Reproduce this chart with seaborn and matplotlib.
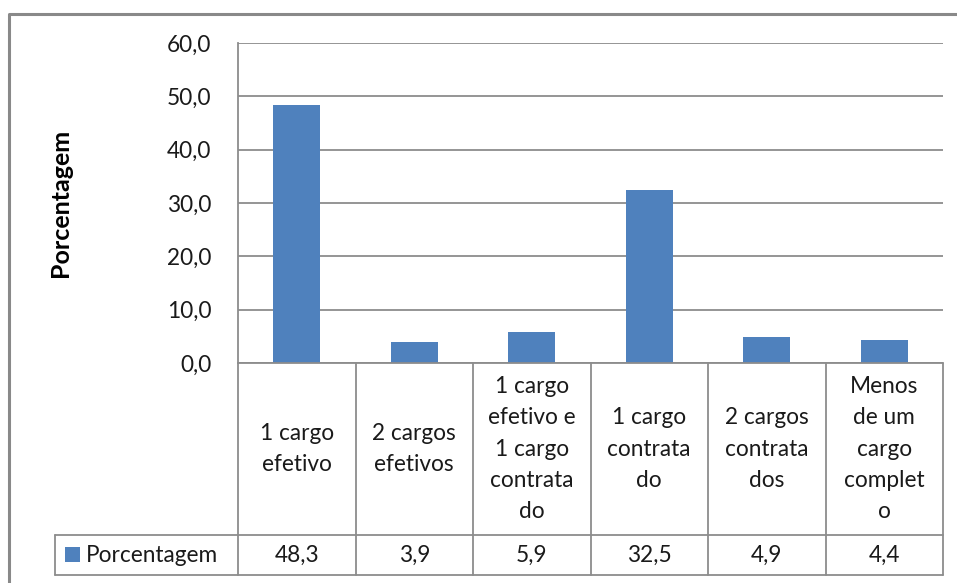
import matplotlib
matplotlib.use("Agg")
import matplotlib.pyplot as plt
import matplotlib.transforms as mtransforms
from matplotlib.lines import Line2D
from matplotlib.patches import Rectangle
import seaborn as sns
import pandas as pd

# Data
categories = [
    "1 cargo\nefetivo",
    "2 cargos\nefetivos",
    "1 cargo\nefetivo e\n1 cargo\ncontrata\ndo",
    "1 cargo\ncontrata\ndo",
    "2 cargos\ncontrata\ndos",
    "Menos\nde um\ncargo\ncomplet\no",
]
values = [48.3, 3.9, 5.9, 32.5, 4.9, 4.4]
series_name = "Porcentagem"
y_ticks = [0, 10, 20, 30, 40, 50, 60]

df = pd.DataFrame({"categoria": categories, "valor": values})

sns.set_theme(style="white")
plt.rcParams["font.family"] = ["Lato", "DejaVu Sans"]

W, H = 957, 583
BAR = "#4F81BD"
GRID = "#8c8c8c"
TXT = "#1a1a1a"
FS = 16.3

fig = plt.figure(figsize=(W / 100, H / 100), dpi=100)
fig.patch.set_facecolor("white")

def fx(px):
    return px / W

def fy(py):
    return 1 - py / H

# plot area in pixel terms
L, R, T, B = 238, 943, 43, 363
ax = fig.add_axes([fx(L), fy(B), fx(R - L), (B - T) / H])

sns.barplot(data=df, x="categoria", y="valor", color=BAR, width=0.4,
            saturation=1, ax=ax, edgecolor="none")

ax.set_xlim(-0.5, len(categories) - 0.5)
ax.set_ylim(0, 60)
ax.set_yticks(y_ticks)
ax.set_yticklabels([f"{v:.1f}".replace(".", ",") for v in y_ticks],
                   fontsize=FS, color=TXT)
ax.tick_params(axis="y", length=0, pad=19)
ax.set_xticks([])
ax.set_xlabel("")
ax.set_ylabel("Porcentagem", fontsize=18, fontweight="bold", color="black",
              labelpad=0)
ax.yaxis.set_label_coords(fx(72 - L) / fx(R - L), 0.5)
ax.set_facecolor("white")
for s in ["top", "right", "bottom"]:
    ax.spines[s].set_visible(False)
ax.spines["left"].set_color(GRID)
ax.spines["left"].set_linewidth(1.3)
ax.grid(axis="y", color=GRID, linewidth=1.3)
ax.set_axisbelow(True)

# data table under the plot: x from category positions, y in figure pixels
tr = mtransforms.blended_transform_factory(ax.transData, fig.transFigure)
ROW_TOP, ROW_MID, ROW_BOT = 363, 535, 575
LEG_LEFT = 55
n = len(categories)
lw = 1.3

def fig_line(xs, ys, transform=fig.transFigure):
    fig.add_artist(Line2D(xs, ys, transform=transform, color=GRID,
                          linewidth=lw))

# horizontal rules
fig_line([-0.5, n - 0.5], [fy(ROW_TOP), fy(ROW_TOP)], tr)
fig_line([fx(LEG_LEFT), fx(R)], [fy(ROW_MID), fy(ROW_MID)])
fig_line([fx(LEG_LEFT), fx(R)], [fy(ROW_BOT), fy(ROW_BOT)])
# vertical rules between categories
for i in range(n + 1):
    fig_line([i - 0.5, i - 0.5], [fy(ROW_TOP), fy(ROW_BOT)], tr)
fig_line([fx(LEG_LEFT), fx(LEG_LEFT)], [fy(ROW_MID), fy(ROW_BOT)])

# category labels and values
for i, (cat, val) in enumerate(zip(categories, values)):
    fig.text(i, fy((ROW_TOP + ROW_MID) / 2), cat, transform=tr,
             ha="center", va="center", fontsize=FS, color=TXT,
             linespacing=1.6, multialignment="center")
    fig.text(i, fy((ROW_MID + ROW_BOT) / 2), f"{val:.1f}".replace(".", ","),
             transform=tr, ha="center", va="center", fontsize=FS, color=TXT)

# legend key in the table
fig.add_artist(Rectangle((fx(65), fy(562)), fx(15), 15 / H,
                         transform=fig.transFigure, facecolor=BAR,
                         edgecolor="none"))
fig.text(fx(86), fy((ROW_MID + ROW_BOT) / 2), series_name, ha="left",
         va="center", fontsize=FS, color=TXT)

# chart frame
fig.add_artist(Line2D([fx(9), fx(9), fx(W + 5)], [fy(H + 5), fy(13.5), fy(13.5)],
                      transform=fig.transFigure, color="#898989",
                      linewidth=2.2))

fig.savefig("out.png", dpi=100, facecolor="white")
